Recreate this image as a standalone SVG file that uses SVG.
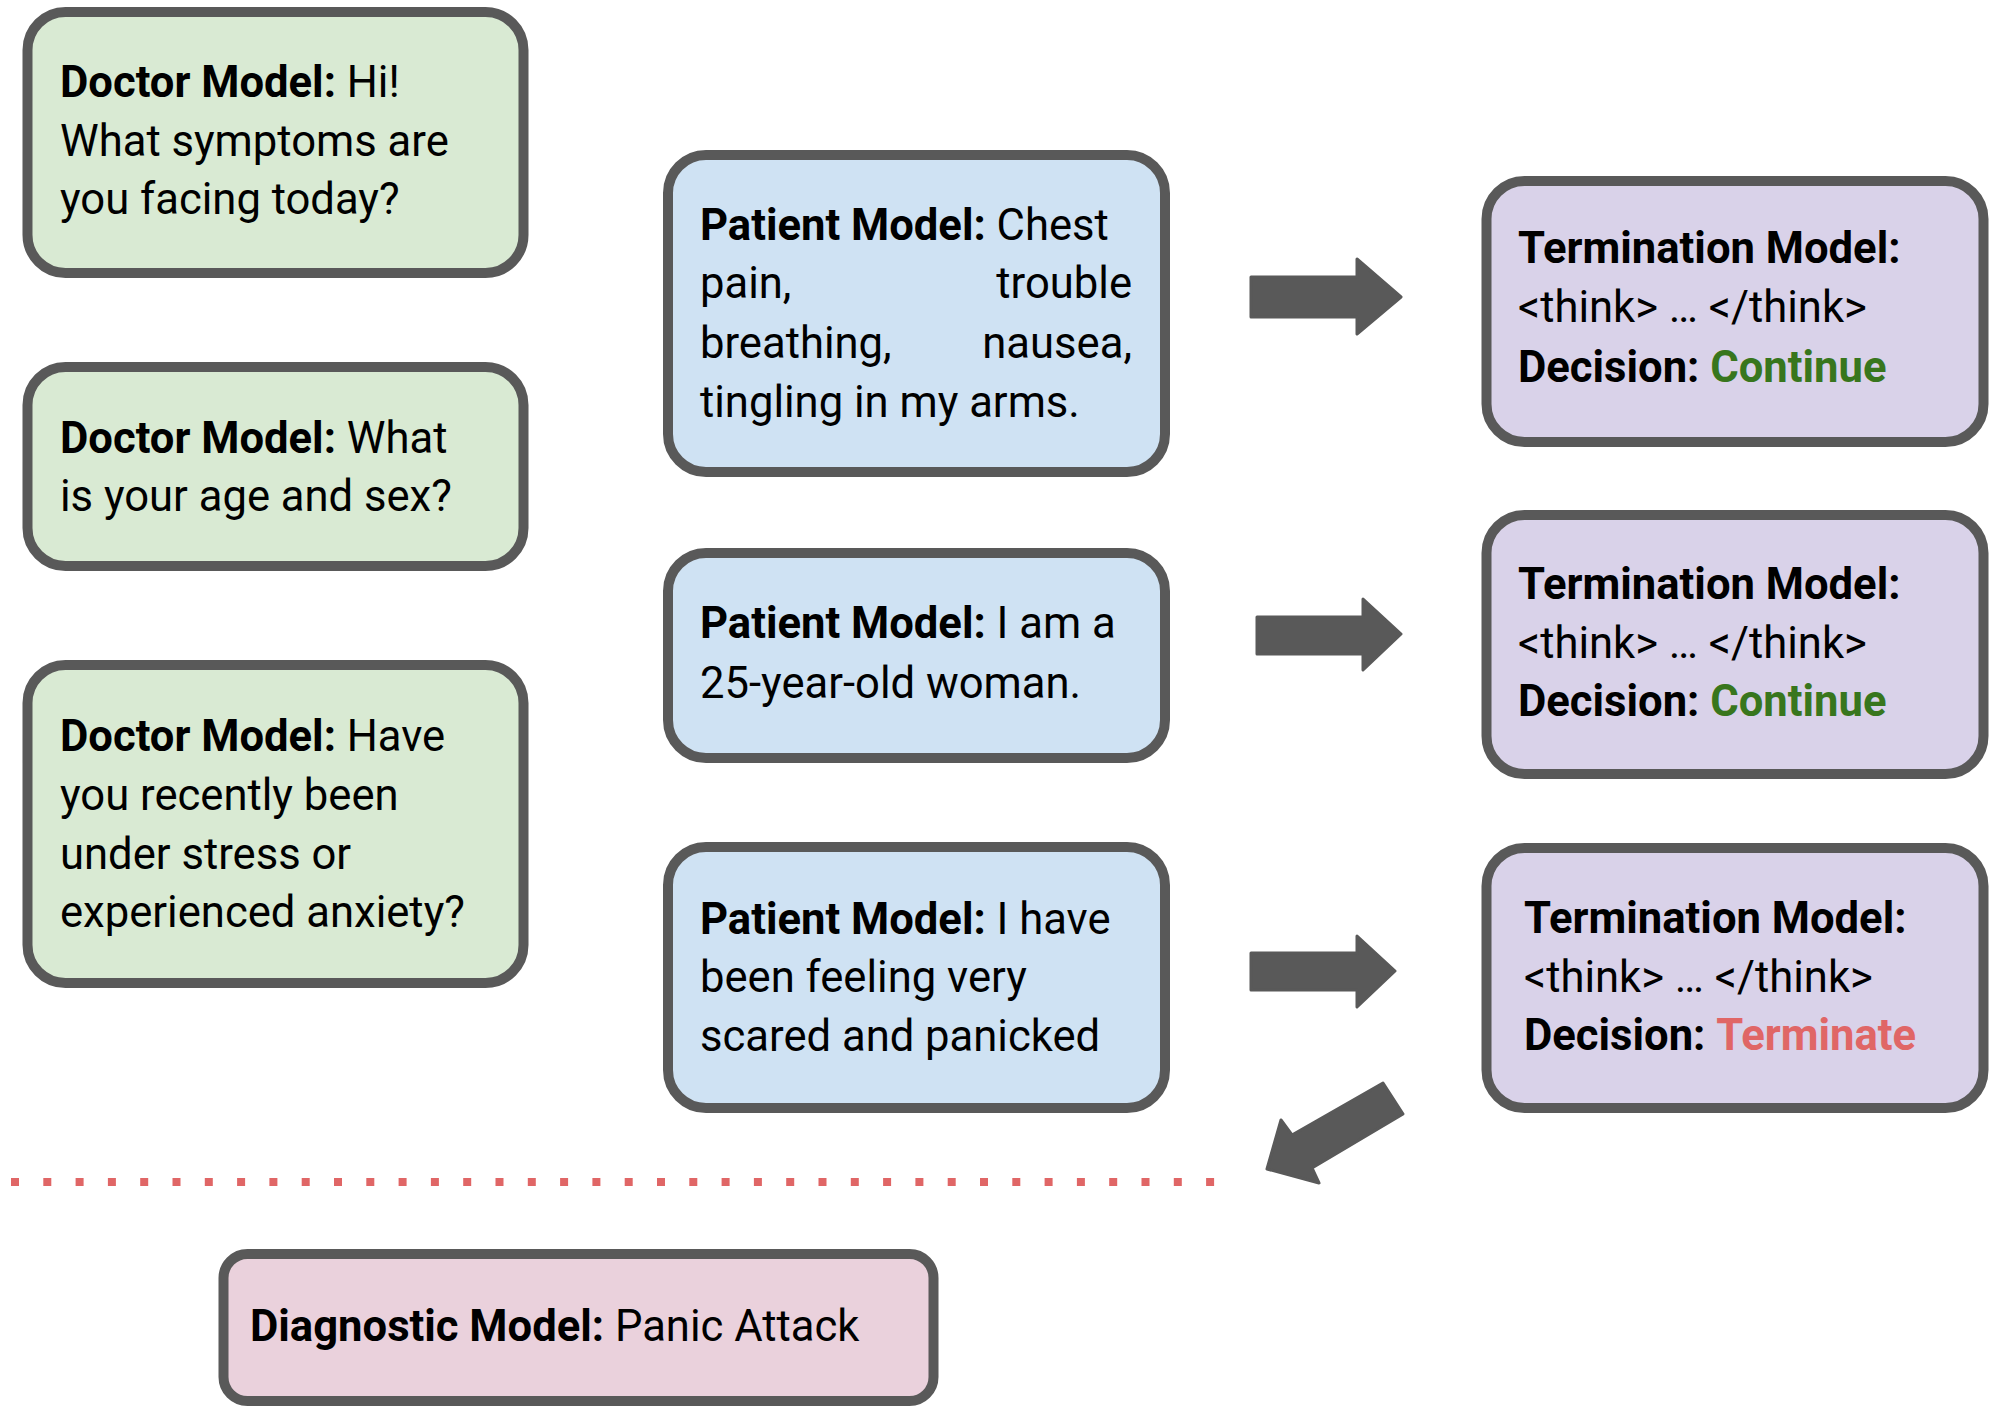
<svg xmlns="http://www.w3.org/2000/svg" width="2000" height="1420" viewBox="0 0 2000 1420">
<style>
.box{stroke:#595959;stroke-width:10}
.doc{fill:#d9ead3}
.pat{fill:#cfe2f3}
.term{fill:#d9d2e9}
.diag{fill:#ead1dc}
text{font-family:Roboto,"Liberation Sans",sans-serif;font-size:43.6px;fill:#000}
.b{font-weight:bold}
.cont{fill:#38761d;font-weight:bold}
.stop{fill:#e06666;font-weight:bold}
.arrow{fill:#595959;stroke:#595959;stroke-width:3;stroke-linejoin:round}
</style>
<rect width="2000" height="1420" fill="#fff"/>
<g id="doctor1">
<rect class="box doc" x="27.5" y="12" width="496" height="261" rx="38"/>
<text x="60" y="97"><tspan class="b">Doctor Model:</tspan> Hi!</text>
<text x="60" y="156">What symptoms are</text>
<text x="60" y="214">you facing today?</text>
</g>
<g id="doctor2">
<rect class="box doc" x="27.5" y="367" width="496" height="199" rx="38"/>
<text x="60" y="453"><tspan class="b">Doctor Model:</tspan> What</text>
<text x="60" y="511">is your age and sex?</text>
</g>
<g id="doctor3">
<rect class="box doc" x="27.5" y="665" width="496" height="318" rx="38"/>
<text x="60" y="751"><tspan class="b">Doctor Model:</tspan> Have</text>
<text x="60" y="810">you recently been</text>
<text x="60" y="869">under stress or</text>
<text x="60" y="927">experienced anxiety?</text>
</g>
<g id="patient1">
<rect class="box pat" x="668" y="155" width="497" height="317" rx="38"/>
<text x="700" y="240"><tspan class="b">Patient Model:</tspan> Chest</text>
<text x="700" y="298">pain,</text>
<text x="1132" y="298" text-anchor="end">trouble</text>
<text x="700" y="358">breathing,</text>
<text x="1132" y="358" text-anchor="end">nausea,</text>
<text x="700" y="417">tingling in my arms.</text>
</g>
<g id="patient2">
<rect class="box pat" x="668" y="553" width="497" height="205" rx="38"/>
<text x="700" y="638"><tspan class="b">Patient Model:</tspan> I am a</text>
<text x="700" y="698">25-year-old woman.</text>
</g>
<g id="patient3">
<rect class="box pat" x="668" y="847" width="497" height="261" rx="38"/>
<text x="700" y="934"><tspan class="b">Patient Model:</tspan> I have</text>
<text x="700" y="992">been feeling very</text>
<text x="700" y="1051">scared and panicked</text>
</g>
<g id="term1">
<rect class="box term" x="1486.5" y="181" width="497" height="261" rx="38"/>
<text x="1518" y="263" class="b">Termination Model:</text>
<text x="1518" y="322">&lt;think&gt; … &lt;/think&gt;</text>
<text x="1518" y="382"><tspan class="b">Decision:</tspan> <tspan class="cont">Continue</tspan></text>
</g>
<g id="term2">
<rect class="box term" x="1486.5" y="515" width="497" height="259" rx="38"/>
<text x="1518" y="599" class="b">Termination Model:</text>
<text x="1518" y="658">&lt;think&gt; … &lt;/think&gt;</text>
<text x="1518" y="716"><tspan class="b">Decision:</tspan> <tspan class="cont">Continue</tspan></text>
</g>
<g id="term3">
<rect class="box term" x="1486.5" y="848" width="497" height="260" rx="38"/>
<text x="1524" y="933" class="b">Termination Model:</text>
<text x="1524" y="992">&lt;think&gt; … &lt;/think&gt;</text>
<text x="1524" y="1050"><tspan class="b">Decision:</tspan> <tspan class="stop">Terminate</tspan></text>
</g>
<g id="diagnostic">
<rect class="box diag" x="223.5" y="1254" width="710" height="147" rx="24"/>
<text x="250" y="1341"><tspan class="b">Diagnostic Model:</tspan> Panic Attack</text>
</g>
<g id="connectors">
<polygon class="arrow" points="1251,277 1357,277 1357,259 1401,297 1357,334 1357,317 1251,317"/>
<polygon class="arrow" points="1257,617 1363,617 1363,599 1401,634 1363,670 1363,654 1257,654"/>
<polygon class="arrow" points="1251,953 1357,953 1357,936 1395,971 1357,1007 1357,990 1251,990"/>
<polygon class="arrow" points="1383,1083 1403,1114 1312,1168 1319,1183 1267,1169 1281,1120 1292,1135"/>
<line x1="11" y1="1182" x2="1216" y2="1182" stroke="#e06666" stroke-width="8" stroke-dasharray="8 24.3"/>
</g>
</svg>
